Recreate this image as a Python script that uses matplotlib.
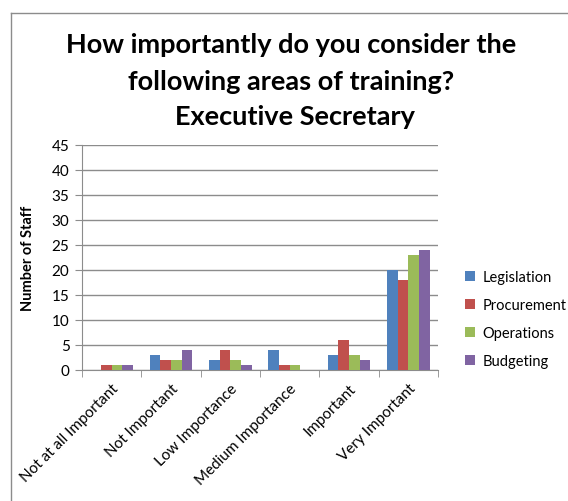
import numpy as np
import matplotlib
matplotlib.use("Agg")
import matplotlib.pyplot as plt
from matplotlib.lines import Line2D

categories = ["Not at all Important", "Not Important", "Low Importance",
              "Medium Importance", "Important", "Very Important"]
series_names = ["Legislation", "Procurement", "Operations", "Budgeting"]
legislation = [0, 3, 2, 4, 3, 20]
procurement = [1, 2, 4, 1, 6, 18]
operations = [1, 2, 2, 1, 3, 23]
budgeting = [1, 4, 1, 0, 2, 24]
y_ticks = list(range(0, 50, 5))

colors = ["#4F81BD", "#C0504D", "#9BBB59", "#8064A2"]
values = [legislation, procurement, operations, budgeting]

plt.rcParams['font.family'] = ['Lato', 'DejaVu Sans']

fig = plt.figure(figsize=(5.68, 5.02), dpi=100)
ax = fig.add_axes([82 / 568, 1 - 370.7 / 502, 356 / 568, 225.2 / 502])

x = np.arange(len(categories))
w = 0.18
for i, (name, vals) in enumerate(zip(series_names, values)):
    ax.bar(x + (i - 1.5) * w, vals, width=w, color=colors[i], label=name, zorder=3)

ax.set_xlim(-0.5, len(categories) - 0.5)
ax.set_ylim(0, 45)
ax.set_yticks(y_ticks)
ax.yaxis.grid(True, color="#8c8c8c", linewidth=1, zorder=0)
ax.set_axisbelow(True)

# category labels at centres, tick marks at boundaries
ax.set_xticks(x)
ax.set_xticklabels(categories, rotation=45, ha="right", rotation_mode="anchor", fontsize=11)
ax.tick_params(axis="x", which="major", length=0, pad=8)
ax.set_xticks(np.arange(-0.5, len(categories), 1), minor=True)
ax.tick_params(axis="x", which="minor", length=5, color="#8c8c8c", direction="out")
ax.tick_params(axis="y", length=5, color="#8c8c8c", labelsize=11, pad=4)

for s in ["top", "right"]:
    ax.spines[s].set_visible(False)
for s in ["left", "bottom"]:
    ax.spines[s].set_color("#8c8c8c")

ax.set_ylabel("Number of Staff", fontsize=10.5, fontweight="bold", labelpad=12)

fig.text(291 / 568, 1 - 45 / 502, "How importantly do you consider the",
         ha="center", va="center", fontsize=19.5, fontweight="bold")
fig.text(291 / 568, 1 - 82 / 502, "following areas of training?",
         ha="center", va="center", fontsize=19.5, fontweight="bold")
fig.text(295 / 568, 1 - 117 / 502, "Executive Secretary",
         ha="center", va="center", fontsize=19.5, fontweight="bold")

ax.legend(loc="center left", bbox_to_anchor=(465 / 568, 1 - 320 / 502),
          bbox_transform=fig.transFigure, frameon=False, fontsize=10.5,
          borderaxespad=0, borderpad=0,
          handlelength=0.7, handleheight=0.7, handletextpad=0.5, labelspacing=0.95)

# chart area border (cropped on right and bottom)
fig.add_artist(Line2D([11 / 568, 11 / 568], [0, 1 - 14 / 502], color="#8c8c8c", linewidth=1))
fig.add_artist(Line2D([11 / 568, 1], [1 - 14 / 502, 1 - 14 / 502], color="#8c8c8c", linewidth=1))

fig.savefig("out.png", dpi=100)
